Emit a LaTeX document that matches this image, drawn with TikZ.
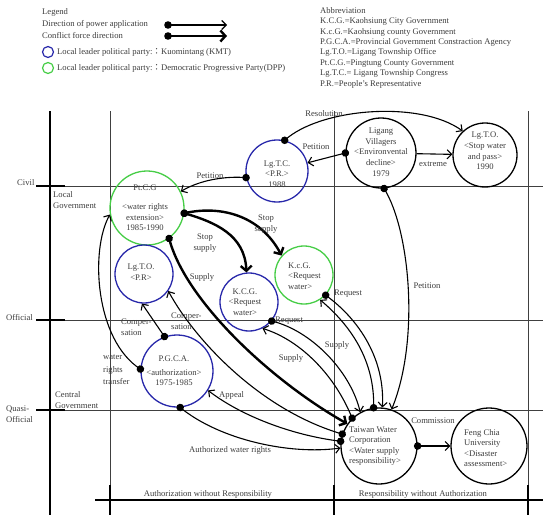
\documentclass[tikz,border=0pt]{standalone}
\usepackage{fontspec}
\setmainfont{Liberation Serif}
\newfontfamily\cjkfont{Noto Sans CJK TC}
\usetikzlibrary{arrows.meta,decorations.markings}
\definecolor{kmtblue}{RGB}{40,40,170}
\definecolor{dppgreen}{RGB}{70,205,70}
\definecolor{txtgray}{RGB}{60,60,60}
\newcommand{\dfont}{\fontsize{8.6}{10.6}\selectfont}
\tikzset{
  txt/.style={font=\dfont, text=txtgray, inner sep=0pt, align=center},
  ring/.style={circle, draw, line width=1.3pt, inner sep=0pt},
  kmt/.style={ring, draw=kmtblue},
  dpp/.style={ring, draw=dppgreen},
  plainring/.style={ring, draw=black},
  dotstart/.style={postaction={decorate, decoration={markings, mark=at position 0 with {\fill[black] (0,0) circle (3.8pt);}}}},
  pwline/.style={line width=1.1pt, -{Straight Barb[length=4.5pt,width=9pt]}},
  pw/.style={pwline, dotstart},
  cf/.style={line width=2.4pt, -{Straight Barb[length=5pt,width=11pt]}, dotstart},
  gthin/.style={line width=0.7pt, black!75},
  gthick/.style={line width=1.4pt, black},
}
\begin{document}
\begin{tikzpicture}[x=1pt,y=-1pt]
\useasboundingbox (0,0) rectangle (550,522);

% ---------- grid ----------
\draw[gthin] (36,186) -- (543,186);
\draw[gthin] (36,320) -- (543,320);
\draw[gthin] (36,410) -- (543,410);
\draw[gthick] (36,186) -- (65,186);
\draw[gthick] (36,320) -- (65,320);
\draw[gthick] (36,410) -- (65,410);
\draw[gthin] (110,111) -- (110,515);
\draw[gthin] (334,111) -- (334,515);
\draw[gthin] (528,111) -- (528,515);
\draw[gthick] (50,111) -- (50,515);
\draw[gthick] (95,500) -- (543,500);
\draw[gthick] (110,485) -- (110,515);
\draw[gthick] (334,485) -- (334,515);
\draw[gthick] (528,485) -- (528,515);

% ---------- grid labels ----------
\node[txt, anchor=base west] (gcivil) at (17,185) {Civil};
\node[txt, align=left, anchor=west] (glocal) at (53,200) {Local\\Government};
\node[txt, anchor=base west] (gofficial) at (6,320) {Official};
\node[txt, align=left, anchor=west] (gcentral) at (55,400) {Central\\Government};
\node[txt, align=left, anchor=west] (gquasi) at (6,414) {Quasi-\\Official};
\node[txt] (gauth) at (208,494) {Authorization without Responsibility};
\node[txt] (gresp) at (423,494) {Responsibility without Authorization};

% ---------- legend ----------
\node[txt, anchor=base west] (lg0) at (42,15) {Legend};
\node[txt, anchor=base west] (lg1) at (42,27) {Direction of power application};
\node[txt, anchor=base west] (lg2) at (42,38) {Conflict force direction};
\coordinate (l1a) at (168,25);
\coordinate (l1b) at (227,25);
\coordinate (l2a) at (168,36);
\coordinate (l2b) at (227,36);
\draw[pw] (l1a) -- (l1b);
\draw[cf] (l2a) -- (l2b);
\node[kmt, minimum size=11pt, line width=1.2pt] (lgk) at (48,52) {};
\node[dpp, minimum size=11pt, line width=1.2pt] (lgd) at (48,68) {};
\node[txt, anchor=base west] (lgkt) at (57,54.5) {Local leader political party:{\cjkfont ：}Kuomintang (KMT)};
\node[txt, anchor=base west] (lgdt) at (57,70.5) {Local leader political party:{\cjkfont ：}Democratic Progressive Party(DPP)};

% ---------- abbreviations ----------
\foreach \t [count=\i from 0] in {Abbreviation,
  K.C.G.=Kaohsiung City Government,
  K.c.G.=Kaohsiung county Government,
  P.G.C.A.=Provincial Government Constraction Agency,
  Lg.T.O.=Ligang Township Office,
  Pt.C.G.=Pingtung County Government,
  Lg.T.C.= Ligang Township Congress,
  P.R.=People's Representative}
  \node[txt, anchor=base west] (ab\i) at (320,{13.2+10.43*\i}) {\t};

% ---------- actors ----------
\node[kmt, minimum size=62pt] (ltc) at (277,171) {};
\node[txt] (ltct) at (277,174) {Lg.T.C.\\<P.R.>\\1988};
\node[plainring, minimum size=70pt] (lv) at (381,153) {};
\node[txt] (lvt) at (381,152) {Ligang\\Villagers\\<Environvental\\decline>\\1979};
\node[plainring, minimum size=64pt] (lto2) at (485,155) {};
\node[txt] (lto2t) at (485,151) {Lg.T.O.\\<Stop water\\and pass>\\1990};
\node[dpp, minimum size=74pt] (ptcg) at (147,208) {};
\node[txt] (ptcgt) at (145,208) {Pt.C.G\\[8pt]<water rights\\extension>\\1985-1990};
\node[kmt, minimum size=58pt] (lto) at (144,274) {};
\node[txt] (ltot) at (141,272) {Lg.T.O.\\<P.R>};
\node[kmt, minimum size=58pt] (kcg) at (249,302) {};
\node[txt] (kcgt) at (245,302) {K.C.G.\\<Request\\water>};
\node[dpp, minimum size=58pt] (kcg2) at (304,275) {};
\node[txt, align=left, anchor=west] (kcg2t) at (288,276) {K.c.G.\\<Request\\water>};
\node[kmt, minimum size=72pt] (pgca) at (177,371) {};
\node[txt] (pgcat) at (174,371) {P.G.C.A.\\[3pt]<authorization>\\1975-1985};
\node[plainring, minimum size=76pt] (tw) at (379,446) {};
\node[txt, align=left, anchor=west] (twt) at (349,446) {Taiwan Water\\Corporation\\<Water supply\\responsibility>};
\node[plainring, minimum size=76pt] (fc) at (489,446) {};
\node[txt, align=left, anchor=west] (fct) at (464,448) {Feng Chia\\University\\<Disaster\\assessment>};

% ---------- connectors ----------
\draw[pw] (ltc.192) .. controls (225,176) and (200,180) .. (ptcg.26);
\draw[pw] (ltc.76) .. controls (320,108) and (420,100) .. (lto2.133);
\draw[pw] (lv.180) -- (ltc.15);
\draw[pwline] (lv) -- (lto2);
\draw[pw] (lv.275) .. controls (410,230) and (420,340) .. (tw.71);
\draw[cf] (ptcg.352) .. controls (215,222) and (245,235) .. (kcg.95);
\draw[cf] (ptcg.352) .. controls (220,205) and (260,215) .. (kcg2.139);
\draw[cf] (ptcg.306) .. controls (185,300) and (270,380) .. (tw.145);
\draw[pw] (tw.162) .. controls (260,410) and (195,340) .. (lto.325);
\draw[pw] (tw.134) .. controls (335,375) and (300,340) .. (kcg.297);
\draw[pw] (kcg.320) .. controls (310,330) and (350,370) .. (tw.119);
\draw[pw] (tw.98) .. controls (375,360) and (350,325) .. (kcg2.303);
\draw[pw] (kcg2.317) .. controls (360,320) and (385,360) .. (tw.85);
\draw[pw] (tw.173) .. controls (290,435) and (240,415) .. (pgca.328);
\draw[pw] (pgca.275) .. controls (220,440) and (290,455) .. (tw.183);
\draw[pw] (pgca.110) -- (lto.266);
\draw[pw] (pgca.177) .. controls (95,340) and (90,250) .. (ptcg.190);
\draw[pw] (tw.east) -- (fc.west);

% ---------- connector labels ----------
\node[txt] (e1) at (210,176) {Petition};
\node[txt] (e2) at (324,114) {Resolution};
\node[txt] (e3) at (316,147) {Petition};
\node[txt] (e4) at (433,164) {extreme};
\node[txt] (e5) at (427,286) {Petition};
\node[txt] (e6) at (205,243) {Stop\\supply};
\node[txt] (e7) at (266,224) {Stop\\supply};
\node[txt] (e8) at (202,277) {Supply};
\node[txt, align=left, anchor=west] (e9) at (171,321) {Comper-\\sation};
\node[txt, align=left, anchor=west] (e16) at (121,327) {Comper-\\sation};
\node[txt, align=left, anchor=west, font=\fontsize{8.6}{12.5}\selectfont] (e17) at (103,370) {water\\rights\\transfer};
\node[txt] (e10) at (291,358) {Supply};
\node[txt, anchor=west] (e11) at (275,321) {Request};
\node[txt] (e12) at (337,345) {Supply};
\node[txt, anchor=west] (e13) at (334,294) {Request};
\node[txt, anchor=west] (e14) at (219,395) {Appeal};
\node[txt] (e15) at (230,450) {Authorized water rights};
\node[txt] (e18) at (433,421) {Commission};
\end{tikzpicture}
\end{document}
